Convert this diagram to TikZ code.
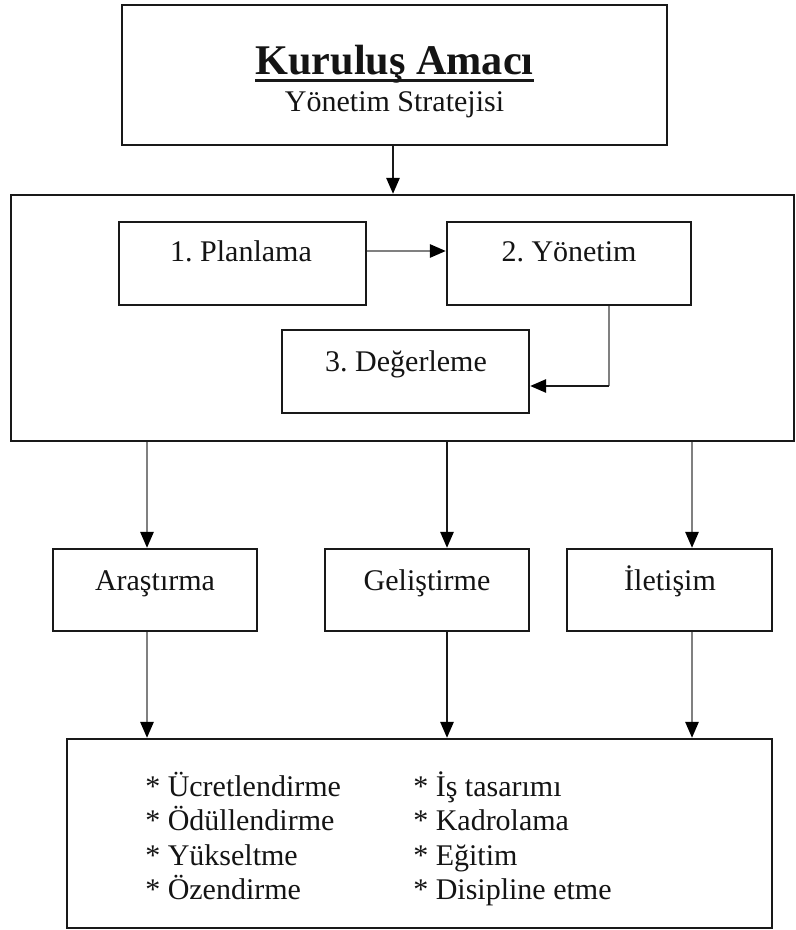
\documentclass[tikz,border=0pt]{standalone}
\usepackage{fontspec}
\setmainfont{Liberation Serif}
\usetikzlibrary{arrows.meta,fit}
\frenchspacing
\begin{document}
\begin{tikzpicture}[x=0.75pt,y=-0.75pt,
  box/.style={draw=black!90, line width=1.8pt, inner sep=0pt, rectangle},
  txt/.style={inner sep=0pt, anchor=base, text=black!92, font=\fontsize{22.5}{27}\selectfont},
  ltxt/.style={txt, anchor=base west},
  ttl/.style={inner sep=0pt, anchor=base, text=black!92, font=\bfseries\fontsize{31.7}{36}\selectfont},
  conn/.style={line width=1.4pt, draw=black!90, -{Triangle[length=12pt,width=10pt,color=black]}},
  conngray/.style={conn, draw=black!50},
  plaingray/.style={line width=1.4pt, draw=black!50},
]
\useasboundingbox (0,0) rectangle (795,930);
\fill[white] (0,0) rectangle (795,930);

% boxes
\node[box, fit={(122,5) (667,145)}] (top) {};
\node[box, fit={(11,195) (794,441)}] (big) {};
\node[box, fit={(119,222) (366,305)}] (p1) {};
\node[box, fit={(447,222) (691,305)}] (p2) {};
\node[box, fit={(282,330) (529,413)}] (p3) {};
\node[box, fit={(53,549) (257,631)}] (ar) {};
\node[box, fit={(325,549) (529,631)}] (ge) {};
\node[box, fit={(567,549) (772,631)}] (il) {};
\node[box, fit={(67,739) (772,928)}] (bot) {};

% texts
\node[ttl] (title) at (394.5,75) {Kuruluş Amacı};
\draw[line width=2.2pt, black!90] ([yshift=-3.9pt]title.base west) -- ([yshift=-3.9pt]title.base east);
\node[txt] (sub) at (394.5,112) {Yönetim Stratejisi};
\node[txt] (t1) at (241,262) {1. Planlama};
\node[txt] (t2) at (569,262) {2. Yönetim};
\node[txt] (t3) at (406,371) {3. Değerleme};
\node[txt] (ta) at (155,590) {Araştırma};
\node[txt] (tg) at (427,590) {Geliştirme};
\node[txt] (ti) at (670,590) {İletişim};

\node[ltxt] (l1) at (145,796) {* Ücretlendirme};
\node[ltxt] (l2) at (145,830.5) {* Ödüllendirme};
\node[ltxt] (l3) at (145,865) {* Yükseltme};
\node[ltxt] (l4) at (145,899.5) {* Özendirme};
\node[ltxt] (r1) at (413,796) {* İş tasarımı};
\node[ltxt] (r2) at (413,830.5) {* Kadrolama};
\node[ltxt] (r3) at (413,865) {* Eğitim};
\node[ltxt] (r4) at (413,899.5) {* Disipline etme};

% helper coordinates
\coordinate (xa) at (393,0);
\coordinate (row1) at (0,251);
\coordinate (xk) at (609,0);
\coordinate (row2) at (0,386);
\coordinate (c1) at (147,0);
\coordinate (c2) at (447,0);
\coordinate (c3) at (692,0);

% connectors
\draw[conn] (xa |- top.south) -- (xa |- big.north);
\draw[conngray] (p1.east |- row1) -- (p2.west |- row1);
\draw[plaingray] (xk |- p2.south) -- (xk |- row2);
\draw[conn] (xk |- row2) -- (p3.east |- row2);

\draw[conngray] (c1 |- big.south) -- (c1 |- ar.north);
\draw[conn] (c2 |- big.south) -- (c2 |- ge.north);
\draw[conngray] (c3 |- big.south) -- (c3 |- il.north);

\draw[conngray] (c1 |- ar.south) -- (c1 |- bot.north);
\draw[conn] (c2 |- ge.south) -- (c2 |- bot.north);
\draw[conngray] (c3 |- il.south) -- (c3 |- bot.north);
\end{tikzpicture}
\end{document}
